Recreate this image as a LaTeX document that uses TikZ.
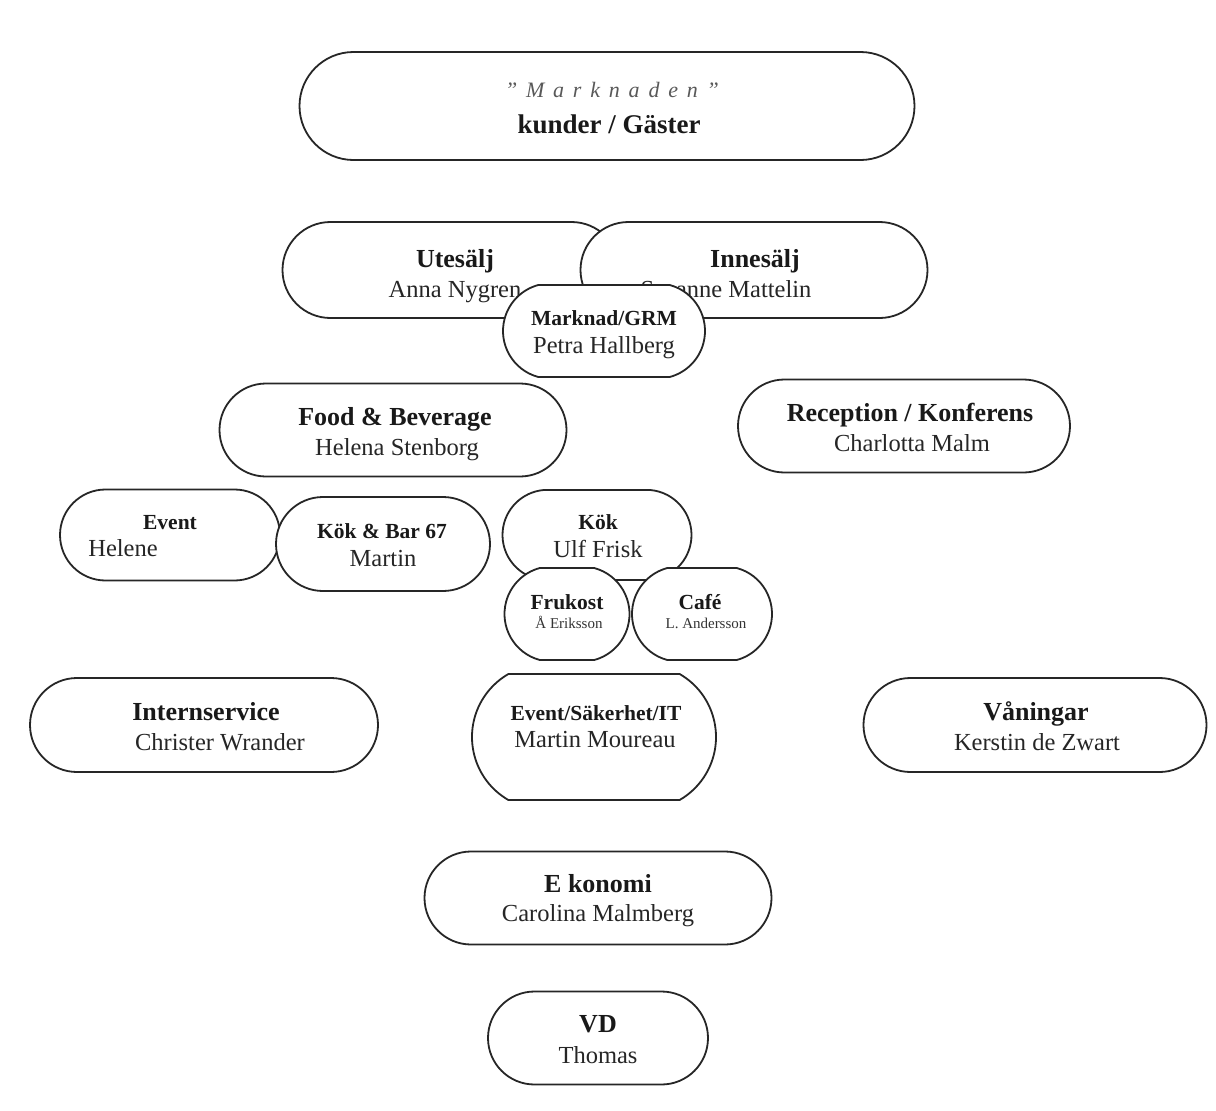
\documentclass[tikz,border=0pt]{standalone}
\usepackage{fontspec}
\setmainfont{Liberation Serif}
\usetikzlibrary{shapes.misc}
\begin{document}
\begin{tikzpicture}[x=1pt,y=-1pt,
  pill/.style={rounded rectangle, draw=black!85, line width=1.8pt, fill=white,
    inner sep=0pt, minimum width=#1},
  ttl/.style={font=\bfseries\fontsize{26}{30}\selectfont, inner sep=0pt, anchor=base, text=black!90},
  nm/.style={font=\fontsize{24.5}{28}\selectfont, inner sep=0pt, anchor=base, text=black!85},
  sttl/.style={font=\bfseries\fontsize{21.5}{24}\selectfont, inner sep=0pt, anchor=base, text=black!90},
  snm/.style={font=\fontsize{15}{17}\selectfont, inner sep=0pt, anchor=base, text=black!80},
]
\fill[white] (0,0) rectangle (1216,1111);
\useasboundingbox (0,0) rectangle (1216,1111);

% top: the market
\node[pill=615, minimum height=108] (mark) at (607,106) {};
\node[inner sep=0pt, anchor=base, text=black!65,
  font=\itshape\fontsize{22}{26}\selectfont\addfontfeature{LetterSpace=40}] (markt) at (612,97) {"Marknaden"};
\node[ttl, font=\bfseries\fontsize{27}{30}\selectfont] (markn) at (609,133) {kunder / Gäster};

% sales
\node[pill=337, minimum height=96] (ute) at (451,270) {};
\node[ttl] (utet) at (455,267) {Utesälj};
\node[nm] (uten) at (455,297) {Anna Nygren};
\node[pill=347, minimum height=96] (inne) at (754,270) {};
\node[ttl] (innet) at (755,267) {Innesälj};
\node[nm] (innen) at (726,297) {Susanne Mattelin};
\node[pill=202, minimum height=92, rounded rectangle arc length=150] (grm) at (604,331) {};
\node[sttl] (grmt) at (604,325) {Marknad/GRM};
\node[nm] (grmn) at (604,353) {Petra Hallberg};

% food & beverage, reception
\node[pill=347, minimum height=93] (fb) at (393,430) {};
\node[ttl] (fbt) at (395,425) {Food \& Beverage};
\node[nm] (fbn) at (397,455) {Helena Stenborg};
\node[pill=332, minimum height=93] (rec) at (904,426) {};
\node[ttl] (rect) at (910,421) {Reception / Konferens};
\node[nm] (recn) at (912,451) {Charlotta Malm};

% kitchen units
\node[pill=220, minimum height=91] (ev) at (170,535) {};
\node[sttl] (evt) at (170,529) {Event};
\node[nm] (evn) at (123,556) {Helene};
\node[pill=214, minimum height=94] (bar) at (383,544) {};
\node[sttl] (bart) at (382,538) {Kök \& Bar 67};
\node[nm] (barn) at (383,566) {Martin};
\node[pill=189, minimum height=90, rounded rectangle arc length=170] (kok) at (597,535) {};
\node[sttl] (kokt) at (598,529) {Kök};
\node[nm] (kokn) at (598,557) {Ulf Frisk};
\node[pill=125, minimum height=92, rounded rectangle arc length=150] (fru) at (567,614) {};
\node[sttl] (frut) at (567,609) {Frukost};
\node[snm] (frun) at (569,628) {Å Eriksson};
\node[pill=140, minimum height=92, rounded rectangle arc length=150] (cafe) at (702,614) {};
\node[sttl] (cafet) at (700,609) {Café};
\node[snm] (cafen) at (706,628) {L. Andersson};

% service row
\node[pill=348, minimum height=94] (int) at (204,725) {};
\node[ttl] (intt) at (206,720) {Internservice};
\node[nm] (intn) at (220,750) {Christer Wrander};
\node[pill=244, minimum height=126, rounded rectangle arc length=120] (sak) at (594,737) {};
\node[sttl] (sakt) at (596,720) {Event/Säkerhet/IT};
\node[nm] (sakn) at (595,747) {Martin Moureau};
\node[pill=343, minimum height=94] (van) at (1035,725) {};
\node[ttl] (vant) at (1036,720) {Våningar};
\node[nm] (vann) at (1037,750) {Kerstin de Zwart};

% finance and management
\node[pill=347, minimum height=93] (eko) at (598,898) {};
\node[ttl] (ekot) at (598,892) {E konomi};
\node[nm] (ekon) at (598,921) {Carolina Malmberg};
\node[pill=220, minimum height=93] (vd) at (598,1038) {};
\node[ttl] (vdt) at (598,1032) {VD};
\node[nm] (vdn) at (598,1063) {Thomas};
\end{tikzpicture}
\end{document}
